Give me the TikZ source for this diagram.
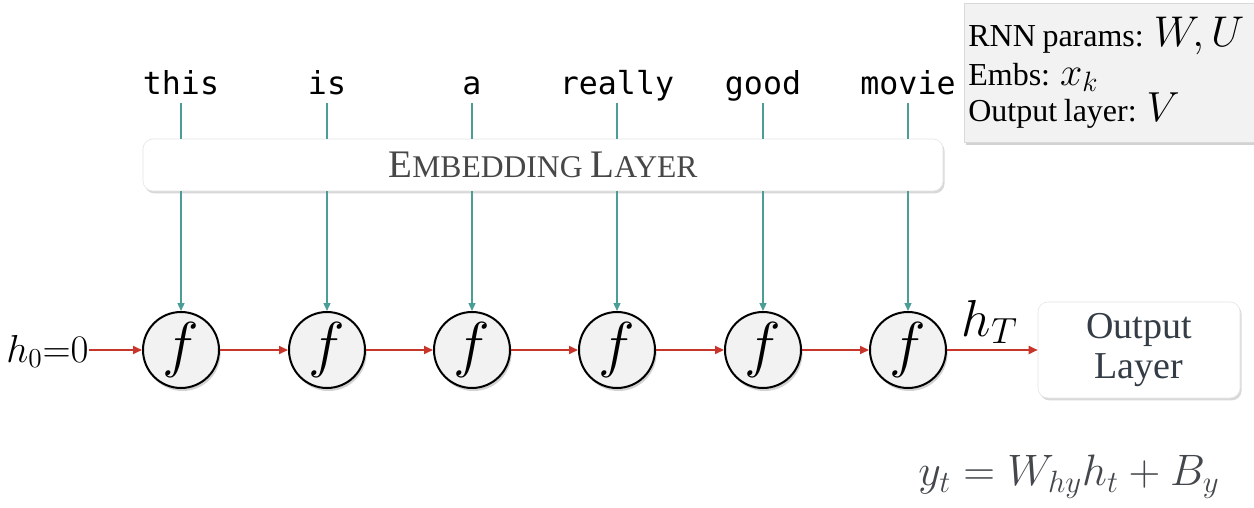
\RequirePackage{fix-cm}
\documentclass[tikz,border=0pt]{standalone}
\usepackage{fontspec}
\newfontfamily\monofont{DejaVu Sans Mono}
\newfontfamily\timesfont{Liberation Serif}
\usetikzlibrary{arrows.meta,shadows}
\definecolor{tealc}{HTML}{4A9E95}
\definecolor{redc}{HTML}{C8352A}
\definecolor{cellgray}{HTML}{F2F2F2}
\definecolor{boxgray}{HTML}{F2F2F2}
\definecolor{embtext}{HTML}{474747}
\definecolor{outtext}{HTML}{343C46}
\definecolor{eqtext}{HTML}{44484C}
\newcommand{\bigsc}{\fontsize{19.5}{24}\selectfont}
\newcommand{\smallsc}{\fontsize{15.8}{24}\selectfont}
\tikzset{
  cell/.style={circle, draw=black, line width=1pt, fill=cellgray, minimum size=38pt, inner sep=0pt,
    drop shadow={opacity=0.35, shadow xshift=0.8pt, shadow yshift=-1.5pt}},
  word/.style={font=\monofont\fontsize{15.8}{18}\selectfont, anchor=base, inner sep=0pt, text depth=4pt},
  tealline/.style={draw=tealc, line width=0.7pt},
  tealarrow/.style={tealline, -{Triangle[length=4pt,width=3.5pt]}},
  redarrow/.style={draw=redc, line width=0.9pt, -{Triangle[length=4.5pt,width=4pt]}},
  layerbox/.style={rectangle, rounded corners=5pt, fill=white, draw=black!10, line width=0.3pt,
    drop shadow={opacity=0.3, shadow xshift=0.8pt, shadow yshift=-1.2pt}},
  parambox/.style={rectangle, fill=boxgray, draw=black!15, line width=0.3pt,
    drop shadow={opacity=0.35, shadow xshift=0.8pt, shadow yshift=-1.2pt}},
}
\begin{document}
\begin{tikzpicture}[x=0.5pt,y=-0.5pt]
\useasboundingbox[fill=white] (0,0) rectangle (1254,508);

% words
\node[word] (w1) at (181,95) {this};
\node[word] (w2) at (327,95) {is};
\node[word] (w3) at (472,95) {a};
\node[word] (w4) at (617,95) {really};
\node[word] (w5) at (763,95) {good};
\node[word] (w6) at (908,95) {movie};

% embedding layer
\node[layerbox, minimum width=400pt, minimum height=26pt, inner sep=0pt, text=embtext] (emb) at (543,165)
  {\timesfont\bigsc E\smallsc MBEDDING \bigsc L\smallsc AYER};

% cells
\foreach \i/\x in {1/181,2/327,3/472,4/617,5/763,6/908}{
  \node[cell] (f\i) at (\x,350) {\fontsize{31}{36}\selectfont$f$};
}

% teal connectors
\foreach \i in {1,...,6}{
  \draw[tealline] (w\i.south) -- (w\i.south |- emb.north);
  \draw[tealarrow] (f\i.north |- emb.south) -- (f\i.north);
}

% h0
\node[anchor=base east, inner sep=0pt] (h0) at (89,362) {\fontsize{19.5}{22}\selectfont$h_0{=}0$};

% output layer
\node[layerbox, minimum width=101pt, minimum height=48pt, align=center, inner sep=0pt,
  font=\timesfont\fontsize{19}{20}\selectfont, text=outtext] (out) at (1139,350) {Output\\Layer};

% red arrows
\draw[redarrow] (h0.east |- f1) -- (f1);
\draw[redarrow] (f1) -- (f2);
\draw[redarrow] (f2) -- (f3);
\draw[redarrow] (f3) -- (f4);
\draw[redarrow] (f4) -- (f5);
\draw[redarrow] (f5) -- (f6);
\draw[redarrow] (f6) -- (out);

\node[inner sep=0pt] (hT) at (990,322) {\fontsize{26}{30}\selectfont$h_T$};

% equation
\node[inner sep=0pt, text=eqtext] (eq) at (1069,477) {\fontsize{22}{26}\selectfont$y_t = W_{hy}h_t + B_y$};

% params box
\node[parambox, anchor=north west, minimum width=150pt, minimum height=69.5pt, text width=146pt,
  inner xsep=2pt, inner ysep=0pt, align=left] (params) at (964,3)
  {\timesfont\fontsize{16}{19.5}\selectfont
   RNN params: {\fontsize{21.5}{19.5}\selectfont$W,U$}\\
   Embs: {\fontsize{20}{19.5}\selectfont$x_k$}\\
   Output layer: {\fontsize{21}{19.5}\selectfont$V$}};
\end{tikzpicture}
\end{document}
